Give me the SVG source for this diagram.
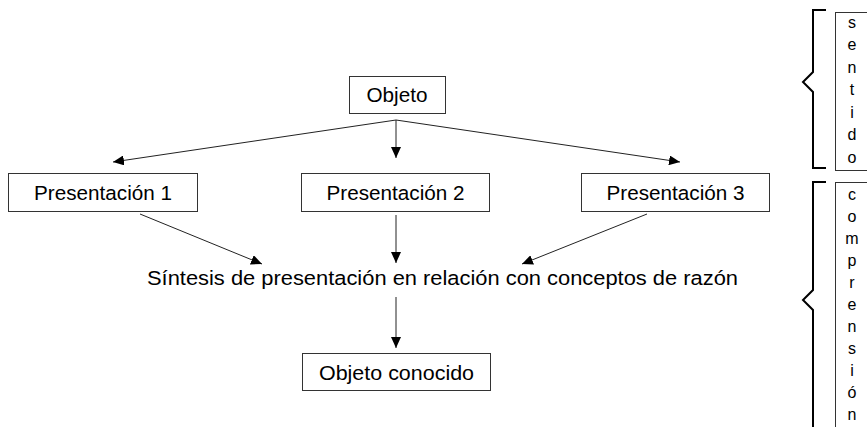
<svg xmlns="http://www.w3.org/2000/svg" width="867" height="427" viewBox="0 0 867 427">
<style>
.box{fill:#fff;stroke:#333;stroke-width:1}
.lbl{font-family:"Liberation Sans",Arial,sans-serif;font-size:20.5px;fill:#000;text-anchor:middle}
.edge{stroke:#222;stroke-width:1;fill:none;marker-end:url(#ah)}
.brace{stroke:#000;stroke-width:2;fill:none}
.vt{font-family:"Liberation Sans",Arial,sans-serif;font-size:16px;fill:#000;text-anchor:middle}
</style>
<defs>
<marker id="ah" markerUnits="userSpaceOnUse" markerWidth="12" markerHeight="10" refX="11" refY="5" orient="auto">
<path d="M0,0 L11,5 L0,10 Z" fill="#000"/>
</marker>
</defs>
<rect width="867" height="427" fill="#fff"/>
<g id="objeto">
<rect class="box" x="349.5" y="76.5" width="96" height="37"/>
<text class="lbl" x="397" y="101.5" textLength="61" lengthAdjust="spacingAndGlyphs">Objeto</text>
</g>
<g id="presentacion1">
<rect class="box" x="8.5" y="173.5" width="189" height="38"/>
<text class="lbl" x="103" y="199.5" textLength="138" lengthAdjust="spacingAndGlyphs">Presentación 1</text>
</g>
<g id="presentacion2">
<rect class="box" x="301.5" y="173.5" width="188" height="38"/>
<text class="lbl" x="395.5" y="199.5" textLength="138" lengthAdjust="spacingAndGlyphs">Presentación 2</text>
</g>
<g id="presentacion3">
<rect class="box" x="581.5" y="173.5" width="188" height="38"/>
<text class="lbl" x="675.5" y="199.5" textLength="138" lengthAdjust="spacingAndGlyphs">Presentación 3</text>
</g>
<g id="sintesis">
<text class="lbl" x="442.5" y="284.5" textLength="591" lengthAdjust="spacingAndGlyphs">Síntesis de presentación en relación con conceptos de razón</text>
</g>
<g id="objeto-conocido">
<rect class="box" x="302.5" y="353.5" width="188" height="37"/>
<text class="lbl" x="396.5" y="379.5" textLength="155" lengthAdjust="spacingAndGlyphs">Objeto conocido</text>
</g>
<g id="connectors">
<line class="edge" x1="396" y1="120" x2="113" y2="162"/>
<line class="edge" x1="396" y1="120" x2="396" y2="158"/>
<line class="edge" x1="396" y1="120" x2="680" y2="162"/>
<line class="edge" x1="140" y1="214" x2="262" y2="264"/>
<line class="edge" x1="396" y1="215" x2="396" y2="263"/>
<line class="edge" x1="647" y1="214" x2="522" y2="264"/>
<line class="edge" x1="396" y1="297" x2="396" y2="348"/>
</g>
<g id="sentido">
<path class="brace" d="M826,10 H813 V72 L803,82 L813,92 V168 H826"/>
<rect class="box" x="835.5" y="12.5" width="40" height="158"/>
<text class="vt"><tspan x="852" y="27.5">s</tspan><tspan x="852" y="50">e</tspan><tspan x="852" y="72.5">n</tspan><tspan x="852" y="95">t</tspan><tspan x="852" y="117.5">i</tspan><tspan x="852" y="140">d</tspan><tspan x="852" y="162.5">o</tspan></text>
</g>
<g id="comprension">
<path class="brace" d="M826,182 H813 V290 L803,300 L813,310 V430"/>
<rect class="box" x="835.5" y="182.5" width="40" height="260"/>
<text class="vt"><tspan x="852" y="199.5">c</tspan><tspan x="852" y="221.5">o</tspan><tspan x="852" y="243.5">m</tspan><tspan x="852" y="265.5">p</tspan><tspan x="852" y="287.5">r</tspan><tspan x="852" y="309.5">e</tspan><tspan x="852" y="331.5">n</tspan><tspan x="852" y="353.5">s</tspan><tspan x="852" y="375.5">i</tspan><tspan x="852" y="397.5">ó</tspan><tspan x="852" y="419.5">n</tspan></text>
</g>
</svg>
